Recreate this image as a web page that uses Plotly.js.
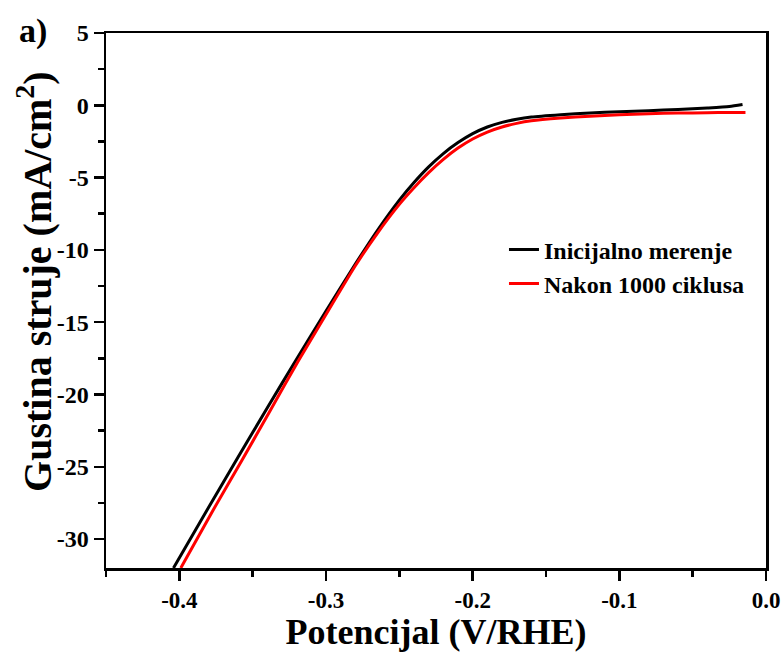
<!DOCTYPE html>
<html>
<head>
<meta charset="utf-8">
<script src="https://cdn.plot.ly/plotly-3.0.1.min.js"></script>
<style>html,body{margin:0;padding:0;background:#fff;}#chart{width:783px;height:652px;}</style>
</head>
<body>
<div id="chart"></div>
<script>
var initialX = [-0.404, -0.38, -0.36, -0.34, -0.32, -0.30, -0.28, -0.265, -0.25, -0.24, -0.23, -0.22, -0.21, -0.20, -0.19, -0.18, -0.17, -0.16, -0.14, -0.12, -0.10, -0.08, -0.06, -0.04, -0.025, -0.016];
var initialY = [-32, -27.8, -24.34, -20.92, -17.54, -14.22, -10.98, -8.66, -6.56, -5.34, -4.26, -3.34, -2.58, -1.96, -1.5, -1.18, -0.96, -0.81, -0.65, -0.53, -0.44, -0.37, -0.29, -0.19, -0.09, 0.05];
var cycledX = [-0.399, -0.377, -0.357, -0.338, -0.319, -0.299, -0.28, -0.265, -0.25, -0.24, -0.23, -0.22, -0.21, -0.20, -0.19, -0.18, -0.17, -0.16, -0.14, -0.12, -0.10, -0.08, -0.06, -0.04, -0.025, -0.014];
var cycledY = [-32, -28.0, -24.5, -21.1, -17.7, -14.3, -11.1, -8.85, -6.85, -5.7, -4.66, -3.74, -2.96, -2.33, -1.85, -1.5, -1.25, -1.07, -0.88, -0.75, -0.65, -0.58, -0.54, -0.51, -0.5, -0.5];
var seriesNames = ["Inicijalno merenje", "Nakon 1000 ciklusa"];
var xTicks = [-0.4, -0.3, -0.2, -0.1, 0.0];
var xTickLabels = ["-0.4", "-0.3", "-0.2", "-0.1", "0.0"];
var yTicks = [5, 0, -5, -10, -15, -20, -25, -30];
var yTickLabels = ["5", "0", "-5", "-10", "-15", "-20", "-25", "-30"];
var xTitle = "Potencijal (V/RHE)";
var yTitle = "Gustina struje (mA/cm<sup>2</sup>)";

var serif = "Liberation Serif";
var traces = [
  {x: initialX, y: initialY, name: seriesNames[0], mode: "lines", line: {color: "#000000", width: 3, shape: "spline", smoothing: 0.6}},
  {x: cycledX, y: cycledY, name: seriesNames[1], mode: "lines", line: {color: "#ff0000", width: 3, shape: "spline", smoothing: 0.6}}
];
var axisCommon = {
  showgrid: false, zeroline: false, showline: true, linecolor: "#000", linewidth: 2.5,
  mirror: true, ticks: "outside", ticklen: 10, tickwidth: 2.5, tickcolor: "#000"
};
var layout = {
  width: 783, height: 652,
  margin: {l: 106, r: 17, t: 33, b: 84},
  paper_bgcolor: "#fff", plot_bgcolor: "#fff",
  font: {family: serif, color: "#000"},
  showlegend: true,
  legend: {x: 0.603, y: 0.563, xanchor: "left", yanchor: "middle", bgcolor: "rgba(0,0,0,0)",
           font: {family: serif, size: 24, color: "#000", weight: "bold"}},
  xaxis: Object.assign({}, axisCommon, {
    range: [-0.45, 0.0], tickvals: xTicks, ticktext: xTickLabels,
    tickfont: {family: serif, size: 23, color: "#000", weight: "bold"},
    minor: {dtick: 0.05, ticklen: 6, tickwidth: 2.5, tickcolor: "#000", ticks: "outside"},
    title: {text: xTitle, font: {family: serif, size: 36, color: "#000", weight: "bold"}, standoff: 2}
  }),
  yaxis: Object.assign({}, axisCommon, {
    range: [-32, 5], tickvals: yTicks, ticktext: yTickLabels,
    tickfont: {family: serif, size: 24, color: "#000", weight: "bold"},
    minor: {dtick: 2.5, ticklen: 6, tickwidth: 2.5, tickcolor: "#000", ticks: "outside"}
  }),
  annotations: [
    {text: yTitle, textangle: -90, xref: "paper", yref: "paper", x: -0.108, y: 0.536, xanchor: "center", yanchor: "middle", showarrow: false,
     font: {family: serif, size: 40, color: "#000", weight: "bold"}},
    {text: "a)", xref: "paper", yref: "paper", x: -0.11, y: 1.004, xanchor: "center", yanchor: "middle", showarrow: false,
     font: {family: serif, size: 34, color: "#000", weight: "bold"}}
  ]
};
Plotly.newPlot("chart", traces, layout, {displayModeBar: false, staticPlot: true});
</script>
</body>
</html>
